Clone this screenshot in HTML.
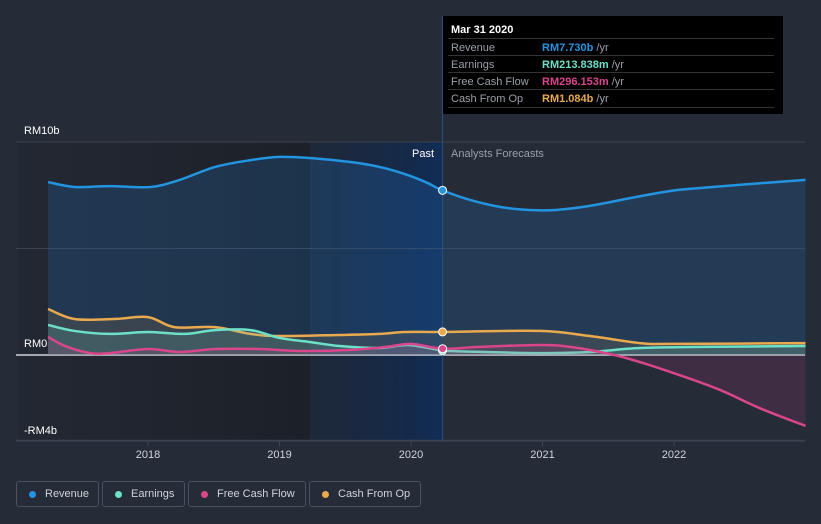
<!DOCTYPE html>
<html><head><meta charset="utf-8"><style>
body{margin:0;width:821px;height:524px;background:#252b37;font-family:"Liberation Sans",sans-serif;overflow:hidden;position:relative}
svg{position:absolute;left:0;top:0}
.tt{position:absolute;left:443px;top:16px;width:340px;height:98px;background:#000;color:#fff}
.tt .h{position:absolute;left:8px;top:8px;font-size:11px;font-weight:bold}
.row{position:absolute;left:5px;width:326px;border-top:1px solid #333;height:17px;font-size:11px;color:#9aa0a8}
.row span{position:absolute;left:94px;top:3px}
.row i{font-style:normal;position:absolute;left:3px;top:3px}
.leg{position:absolute;top:481px;height:26px;border:1px solid #4a5160;border-radius:3px;font-size:11px;color:#d0d4da;box-sizing:border-box;line-height:24px;padding-left:28px}
.leg b{position:absolute;left:12px;top:9px;width:7px;height:7px;border-radius:50%}
</style></head><body>
<svg id="c" width="821" height="524"></svg>
<div class="tt">
<div class="h">Mar 31 2020</div>
<div class="row" style="top:22px"><i>Revenue</i><span><span style="position:static;color:#2394df;font-weight:bold">RM7.730b</span> /yr</span></div>
<div class="row" style="top:39px"><i>Earnings</i><span><span style="position:static;color:#6de0c8;font-weight:bold">RM213.838m</span> /yr</span></div>
<div class="row" style="top:56px"><i>Free Cash Flow</i><span><span style="position:static;color:#d9468c;font-weight:bold">RM296.153m</span> /yr</span></div>
<div class="row" style="top:73px;border-bottom:1px solid #333"><i>Cash From Op</i><span><span style="position:static;color:#e8a94f;font-weight:bold">RM1.084b</span> /yr</span></div>
</div>
<div class="leg" style="left:16px;width:83px"><b style="background:#2394df"></b>Revenue</div>
<div class="leg" style="left:102px;width:83px"><b style="background:#6de0c8"></b>Earnings</div>
<div class="leg" style="left:188px;width:118px"><b style="background:#d9468c"></b>Free Cash Flow</div>
<div class="leg" style="left:309px;width:112px"><b style="background:#e8a94f"></b>Cash From Op</div>
<script>
const revT=[2017.24,2017.44,2017.71,2018.02,2018.24,2018.51,2018.78,2019.0,2019.23,2019.54,2019.76,2019.95,2020.11,2020.24,2020.45,2020.68,2020.9,2021.1,2021.36,2021.67,2021.97,2022.2,2022.58,2023.0];
const revV=[8.12,7.89,7.93,7.89,8.22,8.83,9.15,9.30,9.25,9.06,8.83,8.50,8.12,7.73,7.28,6.95,6.81,6.81,7.0,7.37,7.70,7.84,8.03,8.22];
const cfoT=[2017.24,2017.44,2017.74,2018.0,2018.2,2018.51,2018.78,2019.0,2019.46,2019.76,2019.95,2020.24,2020.98,2021.36,2021.74,2021.97,2023.0];
const cfoV=[2.16,1.69,1.69,1.78,1.31,1.31,0.99,0.89,0.94,0.99,1.08,1.084,1.13,0.89,0.56,0.52,0.56];
const earT=[2017.24,2017.44,2017.71,2018.0,2018.28,2018.51,2018.78,2019.0,2019.23,2019.46,2019.76,2019.98,2020.24,2020.45,2020.98,2021.36,2021.74,2022.2,2023.0];
const earV=[1.41,1.13,0.99,1.08,0.99,1.17,1.17,0.8,0.61,0.42,0.33,0.47,0.214,0.16,0.09,0.14,0.33,0.38,0.42];
const fcfT=[2017.24,2017.37,2017.56,2017.71,2018.0,2018.24,2018.51,2018.85,2019.16,2019.54,2019.81,2020.0,2020.24,2020.52,2020.98,2021.21,2021.51,2021.74,2022.04,2022.35,2022.65,2023.0];
const fcfV=[0.85,0.42,0.09,0.09,0.28,0.14,0.28,0.28,0.19,0.24,0.38,0.52,0.296,0.38,0.47,0.38,0.05,-0.33,-0.94,-1.64,-2.49,-3.33];
const yTicks=[10,5,0,-4];
const yLabels=["RM10b","","RM0","-RM4b"];
const xYears=[2018,2019,2020,2021,2022];
const X=t=>148+(t-2018)*131.5, Y=v=>355-v*21.3;
const NS="http://www.w3.org/2000/svg", svg=document.getElementById('c');
function el(tag,a,p){const e=document.createElementNS(NS,tag);for(const k in a)e.setAttribute(k,a[k]);(p||svg).appendChild(e);return e;}
const defs=el('defs',{});
defs.innerHTML='<linearGradient id="pg" x1="0" x2="1"><stop offset="0" stop-color="#1f232b" stop-opacity="0.4"/><stop offset="1" stop-color="#1c2028"/></linearGradient><linearGradient id="bg" x1="0" x2="1"><stop offset="0" stop-color="#17253a" stop-opacity="0.5"/><stop offset="1" stop-color="#112c55"/></linearGradient>';
let r=el('rect',{x:18,y:142,width:292,height:299,fill:'url(#pg)'});

r=el('rect',{x:310,y:142,width:X(2020.24)-310,height:299,fill:'url(#bg)'});

yTicks.forEach((v,i)=>{
 const g=el('line',{x1:16,x2:805,y1:Y(v),y2:Y(v),stroke:v===0?'#cfd3d8':'#3a4150','stroke-width':v===0?1.5:1});
 
 if(yLabels[i]){const t=el('text',{x:24,y:Y(v)-(v===0?8:8)+(v===-4?-0:0),fill:'#fff','font-size':11});
 if(v===-4)t.setAttribute('y',Y(v)-6);
 t.textContent=yLabels[i];}
});
let bl=el('line',{x1:16,x2:805,y1:441,y2:441,stroke:'#3f4656'});
xYears.forEach(y=>{el('line',{x1:X(y),x2:X(y),y1:441,y2:446,stroke:'#3f4656'});
 const t=el('text',{x:X(y),y:458,fill:'#d0d4da','font-size':11,'text-anchor':'middle'});t.textContent=y;
 });
function path(T,V){const p=T.map((t,i)=>[X(t),Y(V[i])]);let d='M'+p[0][0]+','+p[0][1];
 for(let i=0;i<p.length-1;i++){const p0=p[i-1]||p[i],p1=p[i],p2=p[i+1],p3=p[i+2]||p2;
 d+=' C'+(p1[0]+(p2[0]-p0[0])/6)+','+(p1[1]+(p2[1]-p0[1])/6)+' '+(p2[0]-(p3[0]-p1[0])/6)+','+(p2[1]-(p3[1]-p1[1])/6)+' '+p2[0]+','+p2[1];}
 return [d,p];}
function series(T,V,col,fillc,name){const [d,p]=path(T,V);
 const a=el('path',{d:d+' L'+p[p.length-1][0]+','+Y(0)+' L'+p[0][0]+','+Y(0)+'Z',fill:fillc});
 
 const l=el('path',{d:d,fill:'none',stroke:col,'stroke-width':2.5});
 }
series(revT,revV,'#2394df','rgba(35,120,200,0.22)','revenue');
series(cfoT,cfoV,'#e8a94f','rgba(232,169,79,0.12)','cash-from-op');
series(earT,earV,'#6de0c8','rgba(109,224,200,0.15)','earnings');
series(fcfT,fcfV,'#d9468c','rgba(217,70,140,0.15)','free-cash-flow');
let vl=el('line',{x1:X(2020.24),x2:X(2020.24),y1:16,y2:441,stroke:'#2b4f80'});
[[revV[13],'#2394df'],[cfoV[11],'#e8a94f'],[earV[12],'#6de0c8'],[fcfV[12],'#d9468c']].forEach(([v,c])=>{
 const m=el('circle',{cx:X(2020.24),cy:Y(v),r:4,fill:c,stroke:'#fff','stroke-width':1});
 });
let t=el('text',{x:434,y:157,fill:'#fff','font-size':11,'text-anchor':'end'});t.textContent='Past';
t=el('text',{x:451,y:157,fill:'#9aa0a8','font-size':11});t.textContent='Analysts Forecasts';
</script>
</body></html>
